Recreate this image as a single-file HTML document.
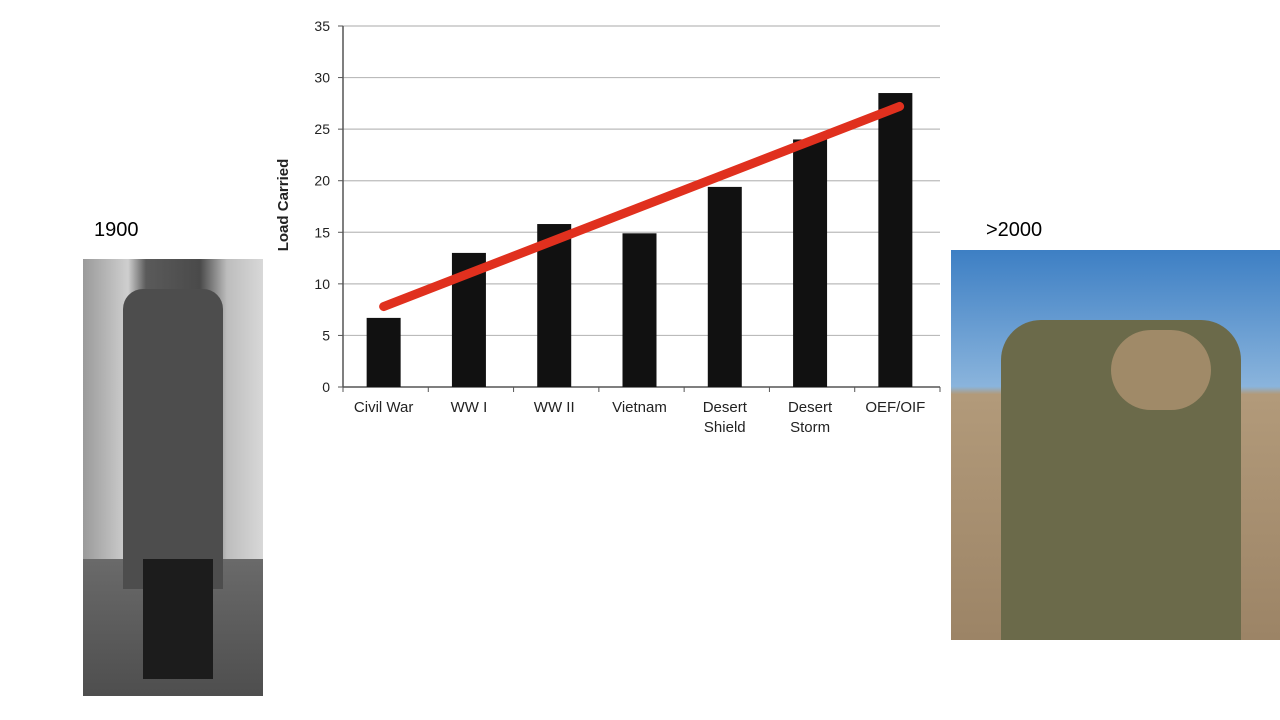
<!DOCTYPE html>
<html><head><meta charset="utf-8"><style>
body{margin:0;width:1280px;height:720px;background:#fff;overflow:hidden;font-family:"Liberation Sans",Arial,sans-serif;position:relative}
.lbl{position:absolute;font-size:20px;color:#000}
</style></head><body>
<div class="lbl" style="left:94px;top:219px">1900</div>
<div class="lbl" style="left:986px;top:219px">&gt;2000</div>
<div style="position:absolute;left:83px;top:259px;width:180px;height:437px;background:linear-gradient(90deg,#9a9a9a 0%,#cfcfcf 25%,#5a5a5a 35%,#4a4a4a 65%,#bdbdbd 80%,#d8d8d8 100%)">
<div style="position:absolute;left:0;right:0;top:300px;bottom:0;background:linear-gradient(180deg,#6a6a6a,#4e4e4e)"></div>
<div style="position:absolute;left:40px;top:30px;width:100px;height:300px;background:#4d4d4d;border-radius:20px 20px 0 0"></div>
<div style="position:absolute;left:60px;top:300px;width:70px;height:120px;background:#1c1c1c"></div>
</div>
<div style="position:absolute;left:951px;top:250px;width:329px;height:390px;background:linear-gradient(180deg,#3d7fc4 0%,#8ab4dc 35%,#b29a7a 37%,#9c8466 100%)">
<div style="position:absolute;left:50px;top:70px;width:240px;height:320px;background:#6b6a4a;border-radius:40px 40px 0 0"></div>
<div style="position:absolute;left:160px;top:80px;width:100px;height:80px;background:#a08a68;border-radius:40px"></div>
</div>
<svg id="chart" width="1280" height="720" style="position:absolute;left:0;top:0">
<text transform="translate(288,205) rotate(-90)" text-anchor="middle" font-size="15" font-weight="bold" fill="#222">Load Carried</text>
</svg>
<script>
const categories=[["Civil War"],["WW I"],["WW II"],["Vietnam"],["Desert","Shield"],["Desert","Storm"],["OEF/OIF"]];
const loads=[6.7,13.0,15.8,14.9,19.4,24.0,28.5];
const yTicks=[0,5,10,15,20,25,30,35];
const trendIdx=[0,6.05];
const trendVals=[7.8,27.2];
const svg=document.getElementById('chart');const NS='http://www.w3.org/2000/svg';
const x0=343,x1=940,y0=387,yTop=26,yMax=35;
const band=(x1-x0)/categories.length;
const X=i=>x0+band*(i+0.5)-2;
const Y=v=>y0-(y0-yTop)*v/yMax;
function mk(t,a){const e=document.createElementNS(NS,t);for(const k in a)e.setAttribute(k,a[k]);svg.appendChild(e);return e;}
yTicks.forEach(t=>{
 const g=mk('line',{x1:x0,x2:x1,y1:Y(t),y2:Y(t),stroke:t===0?'#555':'#bbb','stroke-width':t===0?1.5:1.2});
 
 
 const tx=mk('text',{x:x0-13,y:Y(t)+5,'text-anchor':'end','font-size':14,fill:'#222'});tx.textContent=t;
 
 
 mk('line',{x1:x0-5,x2:x0,y1:Y(t),y2:Y(t),stroke:'#555'});
});
const ax=mk('line',{x1:x0,x2:x0,y1:yTop,y2:y0,stroke:'#555','stroke-width':1.5});


for(let i=0;i<=categories.length;i++)mk('line',{x1:x0+band*i,x2:x0+band*i,y1:y0,y2:y0+5,stroke:'#555'});
categories.forEach((c,i)=>{
 const r=mk('rect',{x:X(i)-17,y:Y(loads[i]),width:34,height:Y(0)-Y(loads[i]),fill:'#111'});
 
 
 c.forEach((s,j)=>{const t=mk('text',{x:X(i),y:y0+25+j*20,'text-anchor':'middle','font-size':15,fill:'#222'});t.textContent=s;
 
 });
});
const tl=mk('line',{x1:X(trendIdx[0]),y1:Y(trendVals[0]),x2:X(trendIdx[1]),y2:Y(trendVals[1]),stroke:'#e0301e','stroke-width':9,'stroke-linecap':'round'});


</script>
</body></html>
